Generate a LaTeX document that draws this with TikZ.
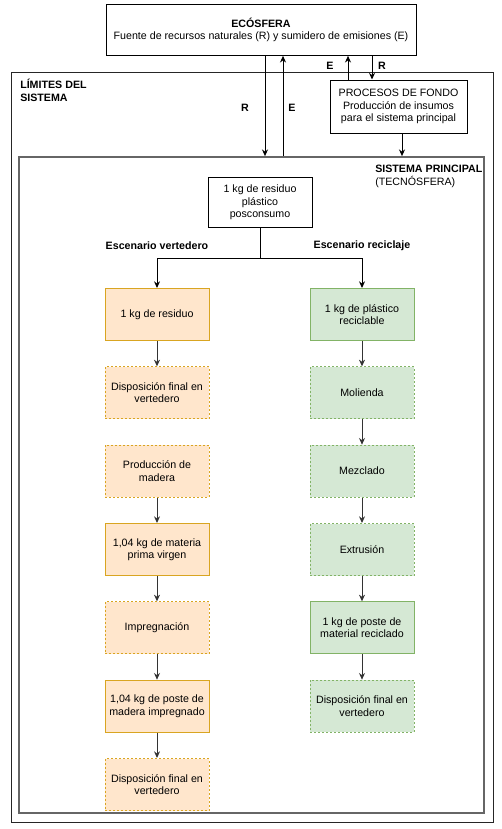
\documentclass[tikz,border=0pt]{standalone}
\usepackage{fontspec}
\setmainfont{Liberation Sans}
\usetikzlibrary{arrows.meta,positioning}
\definecolor{vertfill}{HTML}{FFE6CC}
\definecolor{vertdraw}{HTML}{D9A521}
\definecolor{recfill}{HTML}{D5E8D4}
\definecolor{recdraw}{HTML}{82B366}
\definecolor{linegray}{HTML}{333333}

\begin{document}
\begin{tikzpicture}[
    x=0.75pt, y=-0.75pt,
    font=\fontsize{8}{9.4}\selectfont,
    node distance=19pt,
    box/.style={rectangle, draw=black, line width=0.75pt, fill=white, align=center, inner sep=2pt},
    vsolid/.style={rectangle, draw=vertdraw, fill=vertfill, line width=0.75pt, minimum width=78pt, minimum height=39pt, align=center, inner sep=1pt},
    vdash/.style={vsolid, dash pattern=on 1.5pt off 1.5pt},
    rsolid/.style={vsolid, draw=recdraw, fill=recfill},
    rdash/.style={rsolid, dash pattern=on 1.5pt off 1.5pt},
    lbl/.style={font=\fontsize{8}{9.4}\selectfont\bfseries, inner sep=1pt},
    arrow/.style={-{Stealth[length=5pt,width=4.5pt]}, line width=0.75pt, black},
    step arrow/.style={arrow, linegray}
]
\useasboundingbox (0,0) rectangle (501,829);

% System boundaries
\node[rectangle, draw=black!85, line width=0.75pt, minimum width=361.5pt, minimum height=562.5pt] (limites) at (252,447) {};
\node[rectangle, draw=black!60, line width=1.3pt, minimum width=348.75pt, minimum height=492pt] (sistema) at (251.5,485) {};
\node[lbl, anchor=west, align=left, inner sep=0pt] (limtxt) at (20,90.5) {LÍMITES DEL\\SISTEMA};
\node[anchor=west, align=left, inner sep=0pt] (sistxt) at (375,176.5) {\textbf{SISTEMA PRINCIPAL}\\(TECNÓSFERA)};

% Ecosphere and background processes
\node[box, minimum width=232.5pt, minimum height=38pt] (eco) at (261,30) {\textbf{ECÓSFERA}\\Fuente de recursos naturales (R) y sumidero de emisiones (E)};
\node[box, minimum width=102.75pt, minimum height=39.75pt] (fondo) at (398.5,106.5) {PROCESOS DE FONDO\\Producción de insumos\\para el sistema principal};

\coordinate (rmain) at (265,0);
\coordinate (emain) at (283,0);
\coordinate (efondo) at (348,0);
\coordinate (rfondo) at (372,0);
\coordinate (sfondo) at (402,0);

\draw[arrow] (eco.south -| rmain) -- (sistema.north -| rmain);
\draw[arrow] (sistema.north -| emain) -- (eco.south -| emain);
\draw[arrow] (fondo.north -| efondo) -- (eco.south -| efondo);
\draw[arrow] (eco.south -| rfondo) -- (fondo.north -| rfondo);
\draw[arrow] (fondo.south -| sfondo) -- (sistema.north -| sfondo);

\node[lbl] (rlab) at (245,108) {R};
\node[lbl] (elab) at (292,108) {E};
\node[lbl] (efl) at (330,66) {E};
\node[lbl] (rfl) at (382,66) {R};

% Main system
\node[box, minimum width=78pt, minimum height=38pt] (residuo) at (260,202.5) {1 kg de residuo\\plástico\\posconsumo};
\coordinate (split) at (260,258);
\node[lbl] (escv) at (157,246) {Escenario vertedero};
\node[lbl] (escr) at (362,246) {Escenario reciclaje};

% Landfill scenario
\node[vsolid] (v1) at (157,314.5) {1 kg de residuo};
\node[vdash, below=of v1] (v2) {Disposición final en\\vertedero};
\node[vdash, below=of v2] (v3) {Producción de\\madera};
\node[vsolid, below=of v3] (v4) {1,04 kg de materia\\prima virgen};
\node[vdash, below=of v4] (v5) {Impregnación};
\node[vsolid, below=of v5] (v6) {1,04 kg de poste de\\madera impregnado};
\node[vdash, below=of v6] (v7) {Disposición final en\\vertedero};

% Recycling scenario
\node[rsolid] (r1) at (362,314.5) {1 kg de plástico\\reciclable};
\node[rdash, below=of r1] (r2) {Molienda};
\node[rdash, below=of r2] (r3) {Mezclado};
\node[rdash, below=of r3] (r4) {Extrusión};
\node[rsolid, below=of r4] (r5) {1 kg de poste de\\material reciclado};
\node[rdash, below=of r5] (r6) {Disposición final en\\vertedero};

\draw[arrow] (residuo.south) -- (split) -| (v1.north);
\draw[arrow] (split) -| (r1.north);

\draw[step arrow] (v1) -- (v2);
\draw[step arrow] (v3) -- (v4);
\draw[step arrow] (v4) -- (v5);
\draw[step arrow] (v5) -- (v6);
\draw[step arrow] (v6) -- (v7);

\draw[step arrow] (r1) -- (r2);
\draw[step arrow] (r2) -- (r3);
\draw[step arrow] (r3) -- (r4);
\draw[step arrow] (r4) -- (r5);
\draw[step arrow] (r5) -- (r6);

\end{tikzpicture}
\end{document}
